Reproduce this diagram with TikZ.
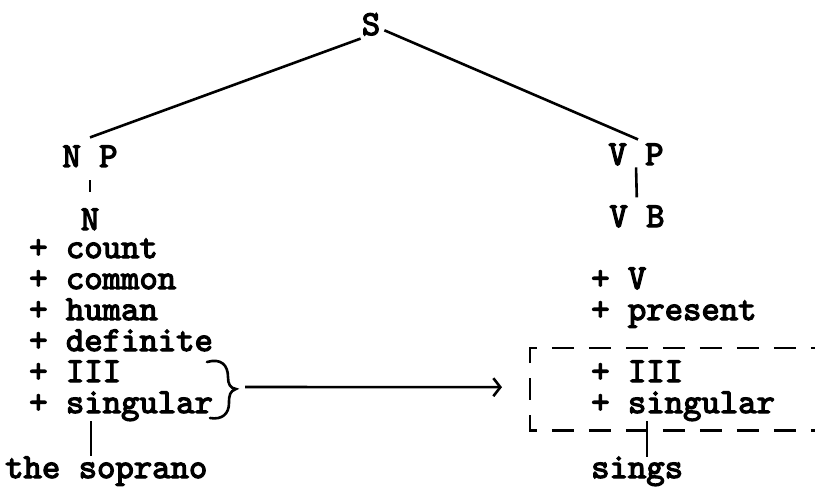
\documentclass[tikz,border=0pt]{standalone}
\usepackage{fontspec}
\newfontfamily\typewriter{lmmono10-regular.otf}[FakeBold=3.5]
\usetikzlibrary{arrows.meta}
\begin{document}
\begin{tikzpicture}[x=1pt,y=-1pt,
  lbl/.style={inner sep=0pt, anchor=base west,
    font=\typewriter\fontsize{35}{35}\selectfont},
  ctr/.style={lbl, anchor=base},
  edge/.style={line width=2.6pt},
  featbox/.style={line width=2.8pt, dash pattern=on 22pt off 15pt, dash phase=11pt},
]
\useasboundingbox (0,0) rectangle (815,487);
\clip (0,0) rectangle (815,487);

% tree labels
\node[ctr] (S)  at (371,35)  {S};
\node[ctr] (NP) at (90,167)  {N P};
\node[ctr] (N)  at (90,230)  {N};
\node[ctr] (VP) at (636,165) {V P};
\node[ctr] (VB) at (637,227) {V B};

% noun features
\node[lbl] (f1) at (29,258) {+ count};
\node[lbl] (f2) at (29,289) {+ common};
\node[lbl] (f3) at (29,320) {+ human};
\node[lbl] (f4) at (29,351) {+ definite};
\node[lbl] (f5) at (29,382) {+ III};
\node[lbl] (f6) at (29,413) {+ singular};
\node[lbl] (sop) at (5,478) {the soprano};

% verb features
\node[lbl] (g1) at (591,289) {+ V};
\node[lbl] (g2) at (591,320) {+ present};
\node[lbl] (g3) at (591,382) {+ III};
\node[lbl] (g4) at (591,413) {+ singular};
\node[lbl] (sings) at (591,478) {sings};

% branches
\draw[edge] ([xshift=-1pt,yshift=-3pt]S.south west) -- ([yshift=8pt]NP.north);
\draw[edge] ([xshift=4pt,yshift=-6pt]S.east) -- ([xshift=2pt,yshift=4pt]VP.north);
\draw[edge, shorten <=13pt, shorten >=16pt] (NP.south) -- (N.north);
\draw[edge, shorten <=2pt, shorten >=8pt] (VP.south) -- (VB.north);
\draw[edge] ([xshift=62pt]f6.south west) -- ([xshift=86pt]sop.north west);
\draw[edge] ([xshift=56pt]g4.south west) -- ([xshift=56pt]sings.north west);

% brace over the agreement features
\draw[edge, line cap=round]
  (207,362) .. controls (221,358) and (228,365) .. (228,377)
  .. controls (228,384) and (230,388) .. (236,389)
  .. controls (230,391) and (229,395) .. (229,403)
  .. controls (229,414) and (222,420) .. (210,418);
\coordinate (tip) at (236,389);

% dashed box round the copied features
\node[inner sep=0pt, minimum width=310pt, minimum height=82pt, anchor=north west]
  (box) at (530,348) {};
\draw[featbox] (box.west) -- (box.north west) -- (box.north east);
\draw[featbox] (box.west) -- (box.south west) -- (box.south east);

% agreement arrow
\draw[edge, -{Straight Barb[length=7pt,width=18pt]}]
  ([xshift=9pt,yshift=2pt]tip) -- ([xshift=-28pt,yshift=2pt]box.west);
\end{tikzpicture}
\end{document}
